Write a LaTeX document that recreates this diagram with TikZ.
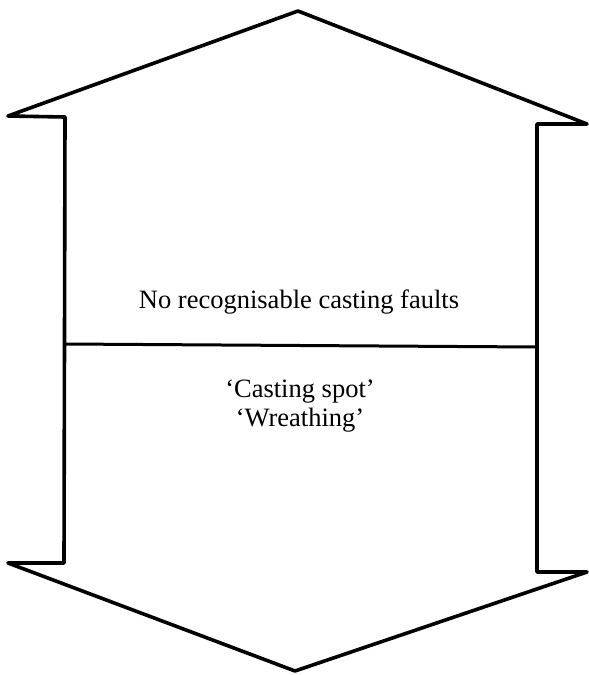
\documentclass[tikz,border=0pt]{standalone}
\usepackage{fontspec}
\setmainfont{Liberation Serif}
\begin{document}
\begin{tikzpicture}[x=1pt, y=-1pt, line join=round,
  every node/.style={font=\fontsize{26.5}{29}\selectfont},
  outline/.style={line width=3.6pt}]
  \useasboundingbox (0,0) rectangle (589,675);

  % arrow points
  \coordinate (apex) at (298,11);
  \coordinate (rtip) at (587,124);
  \coordinate (rtop) at (537,124);
  \coordinate (rbot) at (537,572);
  \coordinate (rbtip) at (587,572);
  \coordinate (bapex) at (295,671);
  \coordinate (lbtip) at (8,563);
  \coordinate (lbot) at (64,563);
  \coordinate (ltop) at (65,117);
  \coordinate (ltip) at (8,116);

  % outline
  \draw[outline] (apex) -- (rtip) -- (rtop) -- (rbot) -- (rbtip)
    -- (bapex) -- (lbtip) -- (lbot) -- (ltop) -- (ltip) -- cycle;

  % divider
  \coordinate (dl) at (65,344);
  \coordinate (dr) at (537,347);
  \draw[line width=3pt] (dl) -- (dr);

  % labels
  \node (none) at (299,302) {No recognisable casting faults};
  \node (spot) at (300,392) {`Casting spot'};
  \node (wreath) at (300,420) {`Wreathing'};
\end{tikzpicture}
\end{document}
